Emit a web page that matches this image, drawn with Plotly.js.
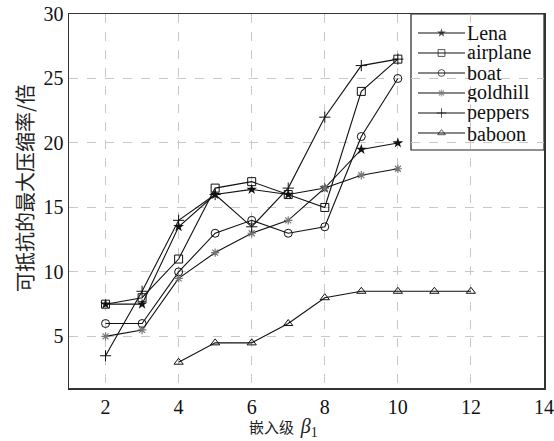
<!DOCTYPE html>
<html>
<head>
<meta charset="utf-8">
<script src="https://cdn.plot.ly/plotly-3.0.1.min.js"></script>
<style>html,body{margin:0;padding:0;background:#fff;}#chart{width:554px;height:441px;}</style>
</head>
<body>
<div id="chart"></div>
<script>
const seriesNames = ["Lena", "airplane", "boat", "goldhill", "peppers", "baboon"];
const xMain = [2, 3, 4, 5, 6, 7, 8, 9, 10];
const lena     = [7.5, 7.5, 13.5, 16, 16.4, 16, 16.5, 19.5, 20];
const airplane = [7.5, 8, 11, 16.5, 17, 16, 15, 24, 26.5];
const boat     = [6, 6, 10, 13, 14, 13, 13.5, 20.5, 25];
const goldhill = [5, 5.5, 9.5, 11.5, 13, 14, 16.5, 17.5, 18];
const peppers  = [3.5, 8.5, 14, 16, 13.5, 16.5, 22, 26, 26.5];
const xBaboon  = [4, 5, 6, 7, 8, 9, 10, 11, 12];
const baboon   = [3, 4.5, 4.5, 6, 8, 8.5, 8.5, 8.5, 8.5];
const xTicks = [2, 4, 6, 8, 10, 12, 14];
const yTicks = [5, 10, 15, 20, 25, 30];
const xTitle = "嵌入级";
const yTitle = "可抵抗的最大压缩率/倍";

const markerStyles = [
  {symbol: "star", size: 8, color: "#111", line: {width: 0}},
  {symbol: "square-open", size: 8, color: "#111", line: {width: 1}},
  {symbol: "circle-open", size: 8, color: "#111", line: {width: 1}},
  {symbol: "asterisk-open", size: 7, color: "#777", line: {width: 1.2, color: "#777"}},
  {symbol: "cross-thin-open", size: 8, color: "#111", line: {width: 1}},
  {symbol: "triangle-up-open", size: 8, color: "#111", line: {width: 1}}
];
const ys = [lena, airplane, boat, goldhill, peppers, baboon];
const xs = [xMain, xMain, xMain, xMain, xMain, xBaboon];

const traces = seriesNames.map((n, i) => ({
  x: xs[i], y: ys[i], name: n, type: "scatter", mode: "lines+markers",
  line: {color: "#111", width: 1.1},
  marker: markerStyles[i], showlegend: false
}));

const serif = "Liberation Serif";
const cjk = "Noto Sans CJK SC";

// Plot-area pixel helpers (for legend/title placement only)
const plotW = 475, plotH = 374, plotL = 69, plotB = 388;
const fx = px => (px - plotL) / plotW;
const fy = py => (plotB - py) / plotH;

// Custom compact legend (the reference uses tight rows)
const legRow0 = 33, legRowGap = 20;
const sx0 = fx(418), sx1 = fx(465), sxm = (sx0 + sx1) / 2;
const annotations = [];
seriesNames.forEach((n, i) => {
  const yy = fy(legRow0 + legRowGap * i);
  const ms = Object.assign({}, markerStyles[i]);
  ms.size = [0, markerStyles[i].size * 0.85, 0];
  traces.push({
    x: [sx0, sxm, sx1], y: [yy, yy, yy], xaxis: "x2", yaxis: "y2",
    type: "scatter", mode: "lines+markers", showlegend: false, cliponaxis: false,
    line: {color: "#111", width: 1.1}, marker: ms, hoverinfo: "skip"
  });
  annotations.push({
    xref: "paper", yref: "paper", x: fx(466), y: yy, xanchor: "left", yanchor: "middle",
    height: 19, borderpad: 0, valign: "middle",
    text: n, showarrow: false, font: {family: serif, size: 20, color: "#111"}
  });
});

// Axis titles (placed like the reference, slightly off-centre)
annotations.push({
  xref: "paper", yref: "paper", x: fx(283), y: fy(427), xanchor: "center", yanchor: "middle",
  showarrow: false,
  text: xTitle + "&nbsp;&nbsp;<span style=\"font-family:'Liberation Serif';font-size:20px\"><i>β</i><sub>1</sub></span>",
  font: {family: cjk, size: 15, color: "#222"}
});
annotations.push({
  xref: "paper", yref: "paper", x: fx(24), y: fy(188), xanchor: "center", yanchor: "middle",
  showarrow: false, textangle: -90, text: yTitle,
  font: {family: cjk, size: 20, color: "#222"}
});

const layout = {
  width: 554, height: 441,
  margin: {l: 69, r: 10, t: 14, b: 53},
  paper_bgcolor: "#fff", plot_bgcolor: "#fff",
  font: {family: serif, size: 20, color: "#111"},
  showlegend: false,
  annotations: annotations,
  shapes: [{type: "rect", xref: "paper", yref: "paper", x0: fx(411), x1: 1, y0: fy(150), y1: 1,
    line: {color: "#222", width: 1.2}, fillcolor: "#fff", layer: "between"}],
  xaxis: {
    range: [1, 14], tickvals: xTicks, ticktext: xTicks.map(String),
    showgrid: true, gridcolor: "#c8c8c8", griddash: "dash", gridwidth: 1,
    zeroline: false, showline: true, mirror: true, linecolor: "#333", linewidth: 1.5,
    ticks: "", tickfont: {family: serif, size: 20, color: "#111"}
  },
  yaxis: {
    range: [1, 30], tickvals: yTicks, ticktext: yTicks.map(String),
    showgrid: true, gridcolor: "#c8c8c8", griddash: "dash", gridwidth: 1,
    zeroline: false, showline: true, mirror: true, linecolor: "#333", linewidth: 1.5,
    ticks: "", tickfont: {family: serif, size: 20, color: "#111"}
  },
  xaxis2: {overlaying: "x", range: [0, 1], visible: false, fixedrange: true},
  yaxis2: {overlaying: "y", range: [0, 1], visible: false, fixedrange: true}
};
Plotly.newPlot("chart", traces, layout, {displayModeBar: false, staticPlot: true});
</script>
</body>
</html>
